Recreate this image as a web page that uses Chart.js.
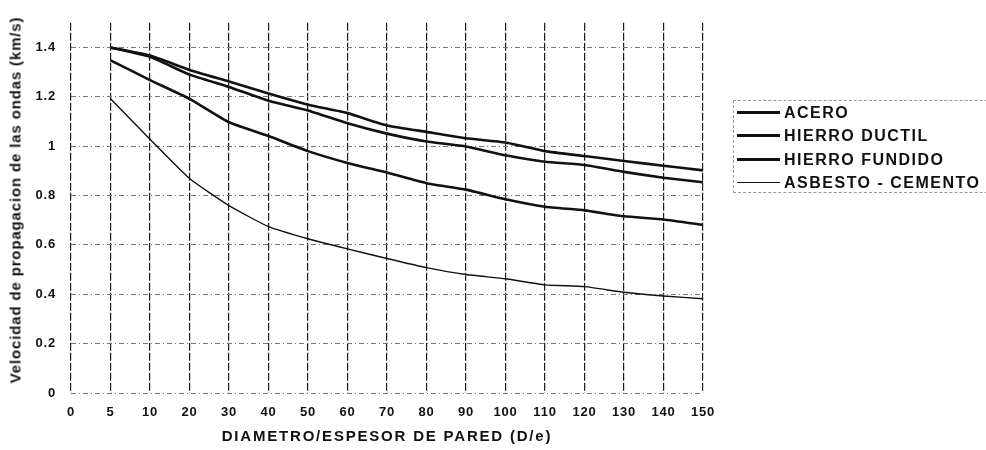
<!DOCTYPE html>
<html>
<head>
<meta charset="utf-8">
<script src="https://cdn.jsdelivr.net/npm/chart.js@4/dist/chart.umd.min.js"></script>
<style>
  html, body { margin: 0; padding: 0; background: #fff; }
  #wrap { position: relative; width: 986px; height: 450px; overflow: hidden; font-family: "Liberation Sans", Arial, sans-serif; }
  #c { position: absolute; left: 0; top: 0; }
  .ttl { position: absolute; font-weight: bold; color: #111; white-space: nowrap; }
  #xt { left: 0; width: 774px; top: 427px; text-align: center; font-size: 15px; letter-spacing: 1.8px; }
  #yt { left: 15px; top: 200px; font-size: 15px; letter-spacing: 0.85px; transform: translate(-50%, -50%) rotate(-90deg); }
  #legend { position: absolute; left: 733px; top: 100px; width: 300px; height: 93px; border: 1px dashed #999; box-sizing: border-box; }
  .row { position: absolute; left: 3px; height: 23px; display: flex; align-items: center; }
  .smp { width: 43px; background: #111; margin-right: 4px; }
  .lab { font-weight: bold; font-size: 16px; letter-spacing: 1.5px; color: #111; }
</style>
</head>
<body>
<div id="wrap">
  <canvas id="c" width="986" height="450"></canvas>
  <div class="ttl" id="yt">Velocidad de propagacion de las ondas (km/s)</div>
  <div class="ttl" id="xt">DIAMETRO/ESPESOR DE PARED (D/e)</div>
  <div id="legend"></div>
</div>
<script>
const categories = ['0','5','10','20','30','40','50','60','70','80','90','100','110','120','130','140','150'];
const seriesNames = ['ACERO', 'HIERRO DUCTIL', 'HIERRO FUNDIDO', 'ASBESTO - CEMENTO'];
const acero   = [null, 1.400, 1.367, 1.309, 1.262, 1.214, 1.168, 1.134, 1.084, 1.058, 1.032, 1.015, 0.980, 0.960, 0.940, 0.921, 0.902];
const ductil  = [null, 1.400, 1.362, 1.290, 1.240, 1.184, 1.145, 1.093, 1.051, 1.019, 0.999, 0.963, 0.937, 0.924, 0.896, 0.872, 0.854];
const fundido = [null, 1.348, 1.268, 1.192, 1.097, 1.041, 0.980, 0.932, 0.893, 0.850, 0.824, 0.785, 0.755, 0.740, 0.716, 0.703, 0.681];
const asbesto = [null, 1.192, 1.028, 0.869, 0.759, 0.674, 0.625, 0.584, 0.545, 0.508, 0.480, 0.463, 0.438, 0.431, 0.408, 0.393, 0.382];
const yTickValues = [0, 0.2, 0.4, 0.6, 0.8, 1, 1.2, 1.4];

const seriesData = [acero, ductil, fundido, asbesto];
const widths = [2.6, 2.6, 2.6, 1.4];

const datasets = seriesData.map((d, i) => ({
  label: seriesNames[i],
  data: d,
  borderColor: '#111',
  backgroundColor: '#111',
  borderWidth: widths[i],
  pointRadius: 0,
  tension: 0.15,
  fill: false
}));

const spacing = {
  id: 'spacing',
  beforeDraw(chart) { try { chart.ctx.letterSpacing = '0.8px'; } catch (e) {} }
};

const chart = new Chart(document.getElementById('c'), {
  type: 'line',
  data: { labels: categories, datasets },
  plugins: [spacing],
  options: {
    responsive: false,
    animation: false,
    layout: { padding: { top: 8, right: 283, left: 0, bottom: 0 } },
    plugins: { legend: { display: false }, tooltip: { enabled: false } },
    scales: {
      x: {
        type: 'category',
        offset: false,
        afterFit(s) { s.height = 57; },
        grid: { color: '#1a1a1a', lineWidth: 1.2, drawTicks: false },
        border: { display: false, dash: [8, 2] },
        ticks: { color: '#111', font: { family: 'Liberation Sans', size: 13, weight: 'bold' }, padding: 12, maxRotation: 0, autoSkip: false }
      },
      y: {
        min: 0, max: 1.5,
        afterFit(s) { s.width = 71; },
        afterBuildTicks(s) { s.ticks = yTickValues.map(v => ({ value: v })); },
        grid: { color: '#777', lineWidth: 1, drawTicks: false },
        border: { display: false, dash: [5, 3, 1, 3] },
        ticks: { color: '#111', font: { family: 'Liberation Sans', size: 13, weight: 'bold' }, padding: 15,
          callback: v => String(Math.round(v * 10) / 10) }
      }
    }
  }
});

const leg = document.getElementById('legend');
chart.data.datasets.forEach((ds, i) => {
  const r = document.createElement('div');
  r.className = 'row';
  r.style.top = Math.round(i * 23.3) + 'px';
  const s = document.createElement('span');
  s.className = 'smp';
  s.style.height = (ds.borderWidth > 2 ? 3 : 1) + 'px';
  const t = document.createElement('span');
  t.className = 'lab';
  t.textContent = ds.label;
  r.appendChild(s); r.appendChild(t);
  leg.appendChild(r);
});
</script>
</body>
</html>
